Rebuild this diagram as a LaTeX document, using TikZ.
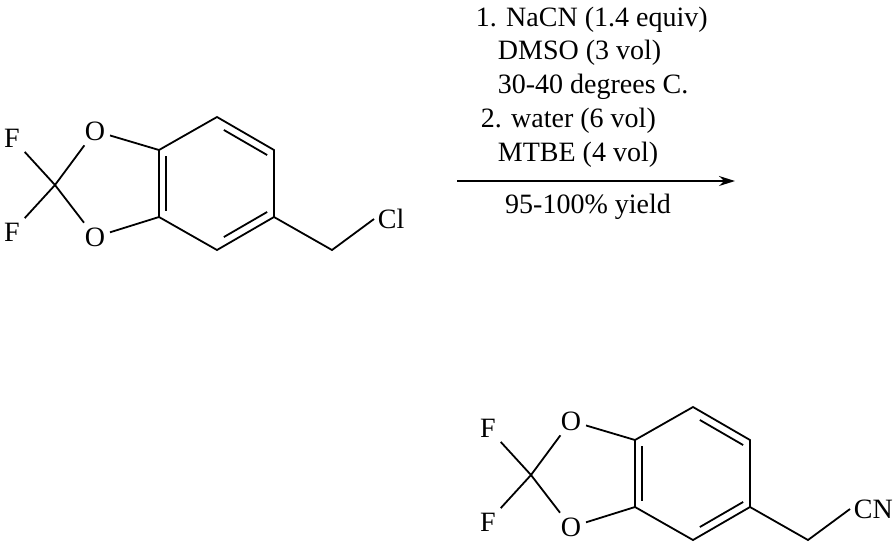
\documentclass[tikz,border=0pt]{standalone}
\usepackage{fontspec}
\setmainfont{Liberation Serif}
\usetikzlibrary{arrows.meta,calc}
\begin{document}
\begin{tikzpicture}[x=1pt,y=-1pt,line width=1.8pt,
  atom/.style={inner sep=4pt,font=\fontsize{28}{28}\selectfont},
  txt/.style={inner sep=0pt,anchor=west,font=\fontsize{28}{28}\selectfont}]
\useasboundingbox (0,0) rectangle (896,542);
\foreach \dx/\dy/\lab/\nm in {0/0/Cl/a,476/290/CN/b}{
 \begin{scope}[shift={(\dx,\dy)}]
  \node[atom] (F1\nm) at (12,138) {F};
  \node[atom] (F2\nm) at (12,232) {F};
  \node[atom] (O1\nm) at (95,131) {O};
  \node[atom] (O3\nm) at (95,237) {O};
  \node[atom,anchor=west,inner sep=3pt] (X\nm) at (374,219) {\lab};
  \coordinate (C2\nm) at (55,185);
  \coordinate (C7a\nm) at (159,150);
  \coordinate (C3a\nm) at (159,217);
  \coordinate (C7\nm) at (217,117);
  \coordinate (C6\nm) at (274,150);
  \coordinate (C5\nm) at (274,217);
  \coordinate (C4\nm) at (217,250);
  \coordinate (M\nm) at (332,250);
  \draw (F1\nm) -- (C2\nm) -- (F2\nm);
  \draw (O1\nm) -- (C2\nm) -- (O3\nm);
  \draw (O1\nm) -- (C7a\nm); \draw (O3\nm) -- (C3a\nm);
  \draw (C7a\nm) -- (C7\nm) -- (C6\nm) -- (C5\nm) -- (C4\nm) -- (C3a\nm) -- cycle;
  \draw (C7a\nm) ++(7,6) -- ++(0,55);
  \draw ($(C7\nm)!0.12!(C6\nm)+(0,9)$) -- ($(C7\nm)!0.88!(C6\nm)+(0,9)$);
  \draw ($(C5\nm)!0.12!(C4\nm)+(0,-9)$) -- ($(C5\nm)!0.88!(C4\nm)+(0,-9)$);
  \draw (C5\nm) -- (M\nm) -- (X\nm.west);
 \end{scope}}
\node[txt] (t1) at (475,20) {1. NaCN (1.4 equiv)};
\node[txt] (t2) at (497,53) {DMSO (3 vol)};
\node[txt] (t3) at (497,87) {30-40 degrees C.};
\node[txt] (t4) at (480,121) {2. water (6 vol)};
\node[txt] (t5) at (497,155) {MTBE (4 vol)};
\node[txt,anchor=center] (t6) at (588,207) {95-100\% yield};
\coordinate (A1) at (457,181); \coordinate (A2) at (735,181);
\draw[line width=1.4pt,-{Stealth[length=16pt,width=10pt]}] (A1) -- (A2);
\end{tikzpicture}
\end{document}
